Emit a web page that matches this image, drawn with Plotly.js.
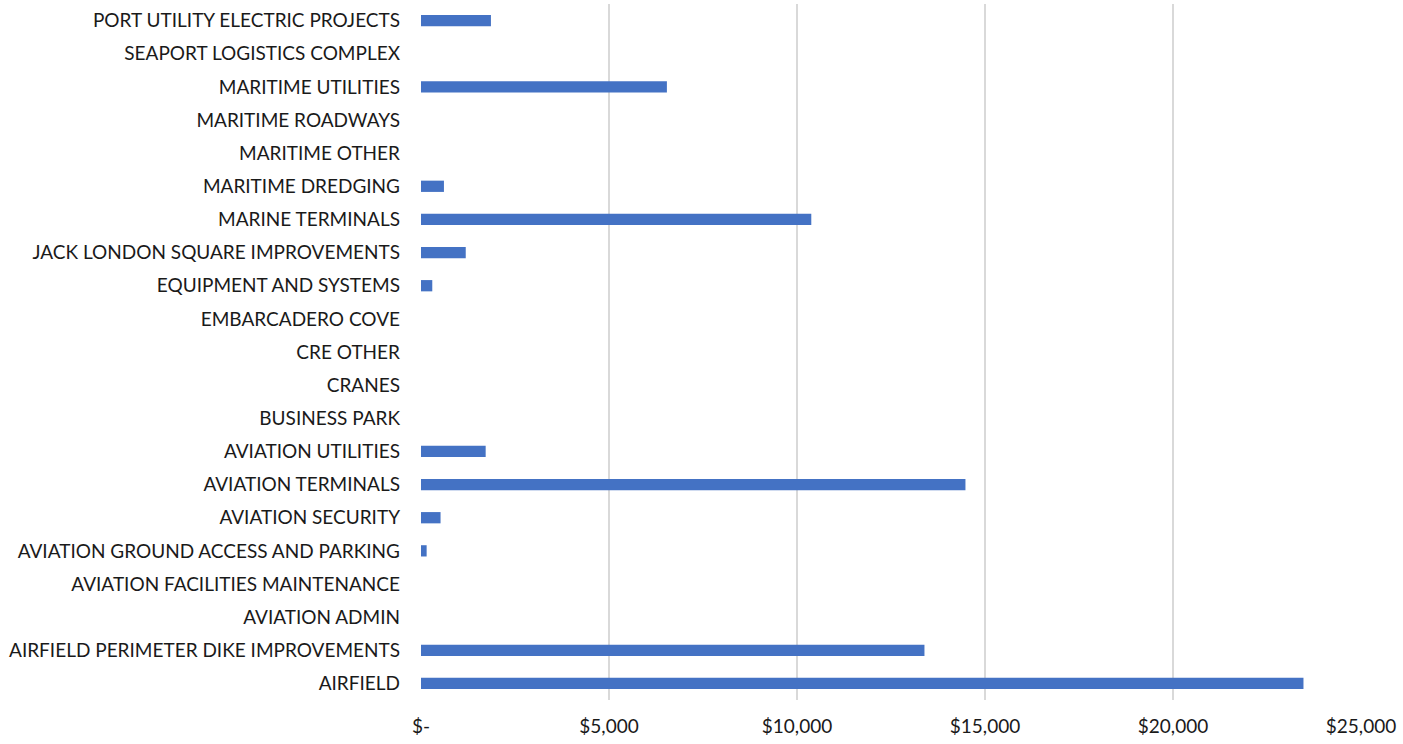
<!DOCTYPE html>
<html>
<head>
<meta charset="utf-8">
<script src="https://cdn.plot.ly/plotly-3.0.1.min.js"></script>
<style>html,body{margin:0;padding:0;background:#fff;}#chart{width:1403px;height:744px;}</style>
</head>
<body>
<div id="chart"></div>
<script>
const categories = [
  "AIRFIELD",
  "AIRFIELD PERIMETER DIKE IMPROVEMENTS",
  "AVIATION ADMIN",
  "AVIATION FACILITIES MAINTENANCE",
  "AVIATION GROUND ACCESS AND PARKING",
  "AVIATION SECURITY",
  "AVIATION TERMINALS",
  "AVIATION UTILITIES",
  "BUSINESS PARK",
  "CRANES",
  "CRE OTHER",
  "EMBARCADERO COVE",
  "EQUIPMENT AND SYSTEMS",
  "JACK LONDON SQUARE IMPROVEMENTS",
  "MARINE TERMINALS",
  "MARITIME DREDGING",
  "MARITIME OTHER",
  "MARITIME ROADWAYS",
  "MARITIME UTILITIES",
  "SEAPORT LOGISTICS COMPLEX",
  "PORT UTILITY ELECTRIC PROJECTS"
];

const values = [
  23470, 13390, 0, 0, 150, 520, 14480, 1720, 0, 0,
  0, 0, 300, 1190, 10380, 610, 0, 0, 6540, 0, 1860
];

const tickVals = [0, 5000, 10000, 15000, 20000, 25000];
const tickText = ["$-", "$5,000", "$10,000", "$15,000", "$20,000", "$25,000"];

const trace = {
  type: "bar",
  orientation: "h",
  y: categories,
  x: values,
  marker: {color: "#4472C4"},
  hoverinfo: "x+y"
};

const layout = {
  width: 1403,
  height: 744,
  margin: {l: 421, r: 42, t: 4, b: 44},
  paper_bgcolor: "#ffffff",
  plot_bgcolor: "#ffffff",
  font: {family: "Lato, 'Open Sans', sans-serif", size: 19, color: "#1a1a1a"},
  showlegend: false,
  bargap: 0.66,
  xaxis: {
    range: [0, 25000],
    tickvals: tickVals,
    ticktext: tickText,
    showgrid: true,
    gridcolor: "#d9d9d9",
    gridwidth: 1.5,
    zeroline: false,
    showline: false,
    ticks: "",
    ticklabelstandoff: 13,
    tickfont: {size: 19, color: "#1a1a1a"},
    fixedrange: true
  },
  yaxis: {
    type: "category",
    categoryorder: "array",
    categoryarray: categories,
    showgrid: false,
    zeroline: false,
    showline: false,
    ticks: "",
    ticklabelstandoff: 20,
    tickfont: {size: 19, color: "#1a1a1a"},
    fixedrange: true
  }
};

Plotly.newPlot("chart", [trace], layout, {displayModeBar: false, staticPlot: true});
</script>
</body>
</html>
